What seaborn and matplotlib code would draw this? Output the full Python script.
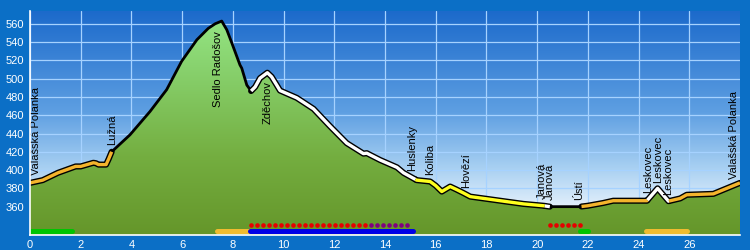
import numpy as np
import pandas as pd
import matplotlib
matplotlib.use("Agg")
import matplotlib.pyplot as plt
from matplotlib.colors import LinearSegmentedColormap
from matplotlib.patches import Polygon
import seaborn as sns

# ---------------- data ----------------
km = [0, 0.5, 1.1, 1.8, 2.0, 2.5, 2.6, 2.7, 3.0, 3.1, 3.22, 3.94, 4.73, 5.39, 5.98,
      6.58, 7.03, 7.3, 7.56, 7.76, 7.96, 8.28, 8.35, 8.55, 8.72, 8.88, 9.07, 9.36,
      9.53, 9.73, 9.86, 10.52, 11.18, 11.83, 12.49, 13.15, 13.28, 13.81, 14.47,
      14.73, 15.25, 15.78, 16.0, 16.24, 16.57, 16.8, 17.09, 17.36, 18.15, 18.8,
      19.46, 20.25, 20.5, 21.7, 22.0, 22.6, 23.0, 24.33, 24.75, 25.18, 25.64, 25.9,
      26.95, 28.0]
elev = [386, 389, 397, 404, 404, 408, 407.5, 406, 406, 412, 420, 438.5, 464, 488,
        519, 542.5, 555, 560, 563, 553.5, 539, 515, 511.5, 493, 486.5, 491, 500.5,
        506.5, 502, 493, 487, 479, 467, 448, 429.5, 418, 418.5, 411, 403, 397, 389,
        387.5, 383, 376.5, 382, 379, 375, 371, 368, 365.5, 363, 361, 360, 360, 361,
        364, 366.5, 366.5, 380, 366, 369, 373, 374, 386]

# route colour segments along the profile (start km, end km, colour; None = plain line)
seg_start = [0, 3.22, 8.72, 15.2, 20.3, 20.5, 21.75, 24.35, 25.2]
seg_end = [3.22, 8.72, 15.2, 20.3, 20.5, 21.75, 24.35, 25.2, 28.0]
seg_color = ["#f4b42c", None, "#ffffff", "#ffff1e", "#ffffff", None, "#f4b42c",
             "#ffffff", "#f4b42c"]

# place labels
label_names = ["Valašská Polanka", "Lužná", "Sedlo Radošov", "Zděchov", "Huslenky",
               "Koliba", "Hovězí", "Janová", "Janová", "Ústí", "Leskovec",
               "Leskovec", "Leskovec", "Valašská Polanka"]
label_km = [0.24, 3.22, 7.42, 9.36, 15.05, 15.78, 17.19, 20.18, 20.51, 21.65,
            24.37, 24.79, 25.18, 27.75]
label_below = [False, False, True, True, False, False, False, False, False, False,
               False, False, False, False]

# bottom bars (start km, end km, colour)
bar_start = [0.0, 7.36, 8.68, 21.7, 24.3]
bar_end = [1.65, 8.68, 15.1, 22.0, 25.9]
bar_color = ["#00c400", "#f0bc30", "#0000e6", "#00c400", "#f0bc30"]

# dotted markers (start km, end km, number of dots, colour)
dot_start = [8.72, 13.45, 20.51]
dot_end = [13.22, 14.87, 21.70]
dot_count = [20, 7, 6]
dot_color = ["#e60000", "#800080", "#e60000"]

x_ticks = list(range(0, 28, 2))
y_ticks = list(range(360, 561, 20))

# ---------------- figure ----------------
sns.set_style("white")
plt.rcParams["font.family"] = ["Liberation Sans", "DejaVu Sans"]

YMIN, YMAX = 329, 574
XMIN, XMAX = 0, 28

fig = plt.figure(figsize=(7.5, 2.5), dpi=100, facecolor="#0b6fc6")
ax = fig.add_axes([30 / 750, 15 / 250, 710 / 750, 224 / 250])
ax.set_xlim(XMIN, XMAX)
ax.set_ylim(YMIN, YMAX)

# sky gradient
sky = LinearSegmentedColormap.from_list(
    "sky", [(0.0, "#ffffff"), (0.12, "#e4f0fb"), (0.3, "#a8d0f2"),
            (0.55, "#5e9fe2"), (1.0, "#1c6acb")])
grad = np.linspace(0, 1, 256).reshape(-1, 1)
ax.imshow(grad, extent=[XMIN, XMAX, YMIN, YMAX], aspect="auto", cmap=sky,
          origin="lower", zorder=-2)

# grid
ax.set_xticks(x_ticks)
ax.set_yticks(y_ticks)
ax.set_axisbelow(True)
ax.grid(True, color="#a6d2ff", lw=0.9, zorder=-1)

# green terrain fill with gradient
ground = LinearSegmentedColormap.from_list(
    "ground", [(0.0, "#65962a"), (0.35, "#74ae40"), (0.75, "#88d26e"), (1.0, "#96e886")])
verts = list(zip(km, elev)) + [(XMAX, YMIN), (XMIN, YMIN)]
poly = Polygon(verts, closed=True, facecolor="none", edgecolor="none",
               transform=ax.transData)
ax.add_patch(poly)
im = ax.imshow(grad, extent=[XMIN, XMAX, YMIN, YMAX], aspect="auto", cmap=ground,
               origin="lower", zorder=1)
im.set_clip_path(poly)

# profile line segments
km_arr = np.array(km, dtype=float)
el_arr = np.array(elev, dtype=float)


def segment(a, b):
    inner = (km_arr > a) & (km_arr < b)
    xs = np.concatenate([[a], km_arr[inner], [b]])
    ys = np.interp(xs, km_arr, el_arr)
    return pd.DataFrame({"km": xs, "elev": ys})


for a, b, c in zip(seg_start, seg_end, seg_color):
    d = segment(a, b)
    lw = 4.4 if c is not None else 2.0
    sns.lineplot(data=d, x="km", y="elev", ax=ax, color="black", lw=lw, sort=False,
                 estimator=None, zorder=3, solid_joinstyle="round",
                 solid_capstyle="round")
for a, b, c in zip(seg_start, seg_end, seg_color):
    if c is None:
        continue
    d = segment(a, b)
    sns.lineplot(data=d, x="km", y="elev", ax=ax, color=c, lw=2.4, sort=False,
                 estimator=None, zorder=4, solid_joinstyle="round",
                 solid_capstyle="butt")

# bottom bars
BAR_Y = 333
for a, b, c in zip(bar_start, bar_end, bar_color):
    ax.plot([a, b], [BAR_Y, BAR_Y], color=c, lw=3.6, solid_capstyle="round", zorder=5)

# dots
DOT_Y = 340
for a, b, n, c in zip(dot_start, dot_end, dot_count, dot_color):
    xs = np.linspace(a, b, n)
    sns.scatterplot(x=xs, y=np.full(n, DOT_Y), ax=ax, color=c, s=11, linewidth=0,
                    zorder=5, legend=False)

# place labels
for name, k, below in zip(label_names, label_km, label_below):
    y = float(np.interp(k, km_arr, el_arr))
    if below:
        ax.text(k, y - 9, name, rotation=90, ha="center", va="top", fontsize=8,
                color="black", zorder=6)
    else:
        ax.text(k, y + 7, name, rotation=90, ha="center", va="bottom", fontsize=8,
                color="black", zorder=6)

# axes styling
for s in ["top", "right"]:
    ax.spines[s].set_visible(False)
for s in ["left", "bottom"]:
    ax.spines[s].set_color("white")
    ax.spines[s].set_linewidth(1.2)
    ax.spines[s].set_zorder(7)
ax.tick_params(axis="both", colors="white", length=3, width=1, pad=1)
ax.tick_params(axis="y", labelsize=8)
ax.tick_params(axis="x", labelsize=8, pad=0.5)
ax.set_xlabel("")
ax.set_ylabel("")

fig.savefig("out.png", dpi=100, facecolor=fig.get_facecolor())
